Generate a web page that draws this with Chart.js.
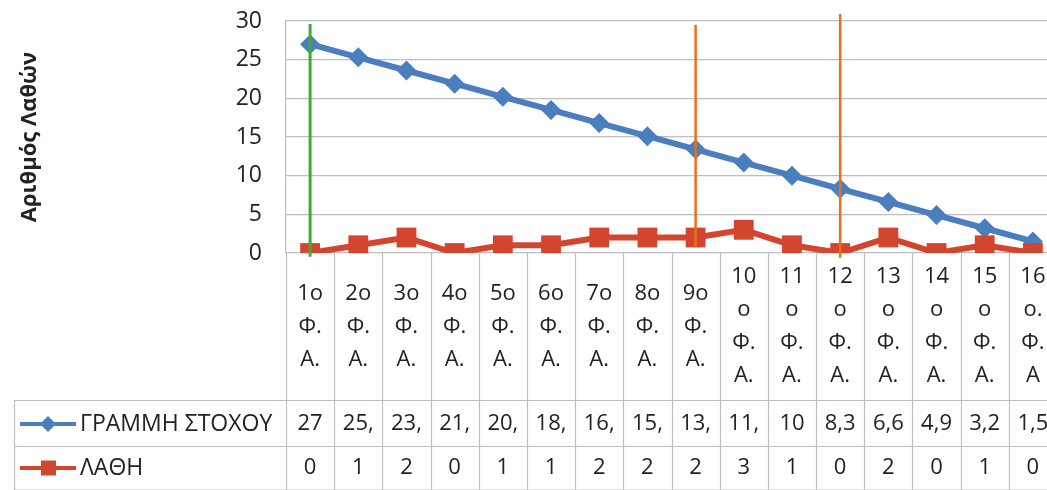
<!DOCTYPE html>
<html>
<head>
<meta charset="utf-8">
<script src="https://cdn.jsdelivr.net/npm/chart.js@4/dist/chart.umd.min.js"></script>
<style>
  html, body { margin: 0; padding: 0; background: #fff; overflow: hidden; }
  #wrap { width: 1047px; height: 490px; overflow: hidden; position: relative; }
  #chart { display: block; }
</style>
</head>
<body>
<div id="wrap"><canvas id="chart" width="1071" height="490"></canvas></div>
<script>
// categories as they wrap in the narrow table cells
const categories = [
  ['1o','Φ.','Α.'], ['2o','Φ.','Α.'], ['3o','Φ.','Α.'], ['4o','Φ.','Α.'],
  ['5o','Φ.','Α.'], ['6o','Φ.','Α.'], ['7o','Φ.','Α.'], ['8o','Φ.','Α.'],
  ['9o','Φ.','Α.'], ['10','o','Φ.','Α.'], ['11','o','Φ.','Α.'], ['12','o','Φ.','Α.'],
  ['13','o','Φ.','Α.'], ['14','o','Φ.','Α.'], ['15','o','Φ.','Α.'], ['16','o.','Φ.','Α']
];
const targetLine = [27, 25.3, 23.6, 21.9, 20.2, 18.5, 16.8, 15.1, 13.4, 11.7, 10, 8.3, 6.6, 4.9, 3.2, 1.5];
const errors = [0, 1, 2, 0, 1, 1, 2, 2, 2, 3, 1, 0, 2, 0, 1, 0];
const seriesNames = ['ΓΡΑΜΜΗ ΣΤΟΧΟΥ', 'ΛΑΘΗ'];
const yTitle = 'Αριθμός Λαθών';

// hand drawn marks on the original: [category index, top value, bottom value]
const greenMark = [0, 29.6, -0.5];
const orangeMarks = [[8, 29.5, 0.8], [11, 30.9, -0.6]];

const labels = categories.map(l => l.join(' '));

const FONT = '"Open Sans", "Noto Sans", sans-serif';
const BLUE = '#4a7ebf';
const RED = '#d2462f';
const GRID = '#bdbdc4';

// Excel cuts the number to the cell width
function cellText(v) {
  const s = String(v).replace('.', ',');
  return s.length > 3 ? s.slice(0, 3) : s;
}

function markData(m) {
  return [{x: labels[m[0]], y: m[1]}, {x: labels[m[0]], y: m[2]}];
}

const tablePlugin = {
  id: 'dataTable',
  afterDraw(chart) {
    const ctx = chart.ctx;
    const xs = chart.scales.x;
    const area = chart.chartArea;
    const H = chart.height;
    const colW = (area.right - area.left) / categories.length;
    const rowTop = 400, rowMid = 446;
    const legendLeft = 14;

    ctx.save();
    ctx.strokeStyle = GRID;
    ctx.lineWidth = 1.2;
    // column lines
    for (let i = 0; i <= categories.length; i++) {
      const x = Math.round(area.left + i * colW) + 0.5;
      ctx.beginPath();
      ctx.moveTo(x, area.bottom);
      ctx.lineTo(x, H);
      ctx.stroke();
    }
    // row lines
    [rowTop, rowMid, H - 0.5].forEach(y => {
      ctx.beginPath();
      ctx.moveTo(legendLeft, y + 0.5);
      ctx.lineTo(chart.width, y + 0.5);
      ctx.stroke();
    });
    ctx.beginPath();
    ctx.moveTo(legendLeft + 0.5, rowTop);
    ctx.lineTo(legendLeft + 0.5, H);
    ctx.stroke();

    // category labels
    ctx.fillStyle = '#222';
    ctx.font = '22px ' + FONT;
    ctx.textAlign = 'center';
    ctx.textBaseline = 'middle';
    const lh = 33;
    const midY = (area.bottom + rowTop) / 2;
    categories.forEach((lines, i) => {
      const x = xs.getPixelForValue(i);
      const y0 = midY - (lines.length - 1) * lh / 2;
      lines.forEach((t, k) => ctx.fillText(t, x, y0 + k * lh));
    });

    // values
    const y1 = (rowTop + rowMid) / 2 + 1, y2 = (rowMid + H) / 2;
    targetLine.forEach((v, i) => ctx.fillText(cellText(v), xs.getPixelForValue(i), y1));
    errors.forEach((v, i) => ctx.fillText(cellText(v), xs.getPixelForValue(i), y2));

    // legend keys
    ctx.textAlign = 'left';
    ctx.lineWidth = 4;
    ctx.strokeStyle = BLUE;
    ctx.beginPath(); ctx.moveTo(20, y1); ctx.lineTo(76, y1); ctx.stroke();
    ctx.fillStyle = BLUE;
    ctx.beginPath();
    ctx.moveTo(48, y1 - 8); ctx.lineTo(56, y1); ctx.lineTo(48, y1 + 8); ctx.lineTo(40, y1);
    ctx.closePath(); ctx.fill();
    ctx.strokeStyle = RED;
    ctx.beginPath(); ctx.moveTo(20, y2); ctx.lineTo(76, y2); ctx.stroke();
    ctx.fillStyle = RED;
    ctx.fillRect(41, y2 - 7.5, 15, 15);

    ctx.fillStyle = '#222';
    ctx.font = '23px ' + FONT;
    ctx.fillText(seriesNames[0], 80, y1);
    ctx.fillText(seriesNames[1], 80, y2);
    ctx.restore();
  }
};

new Chart(document.getElementById('chart'), {
  type: 'line',
  data: {
    labels: labels,
    datasets: [
      {
        label: seriesNames[0], data: targetLine, order: 2,
        borderColor: BLUE, backgroundColor: BLUE, borderWidth: 6,
        pointStyle: 'rectRot', pointRadius: 10, pointBorderWidth: 0
      },
      {
        label: seriesNames[1], data: errors, order: 1,
        borderColor: RED, backgroundColor: RED, borderWidth: 6,
        pointStyle: 'rect', pointRadius: 14, pointBorderWidth: 0
      },
      {
        label: 'g', data: markData(greenMark), order: 0, clip: false,
        borderColor: '#3fae2f', borderWidth: 3, pointRadius: 0
      },
      ...orangeMarks.map(m => ({
        label: 'o', data: markData(m), order: 0, clip: false,
        borderColor: '#e8701a', borderWidth: 2.5, pointRadius: 0
      }))
    ]
  },
  options: {
    responsive: false,
    animation: false,
    layout: { padding: { top: 21, right: 0, bottom: 237, left: 0 } },
    plugins: { legend: { display: false }, tooltip: { enabled: false } },
    scales: {
      x: {
        type: 'category', offset: true, display: false, ticks: { display: false },
        afterFit(s) { s.paddingLeft = 0; s.paddingRight = 0; }
      },
      y: {
        min: 0, max: 30,
        ticks: { stepSize: 5, padding: 24, color: '#222', font: { size: 23, family: FONT } },
        grid: { color: GRID, lineWidth: 1.2, drawTicks: false },
        border: { display: true, color: GRID, width: 1.2 },
        title: {
          display: true, text: yTitle, color: '#222',
          font: { size: 22, weight: 'bold', family: FONT },
          padding: { top: 17, bottom: 0 }
        },
        afterFit(s) { s.width = 286; s.paddingTop = 0; s.paddingBottom = 0; }
      }
    }
  },
  plugins: [tablePlugin]
});
</script>
</body>
</html>
